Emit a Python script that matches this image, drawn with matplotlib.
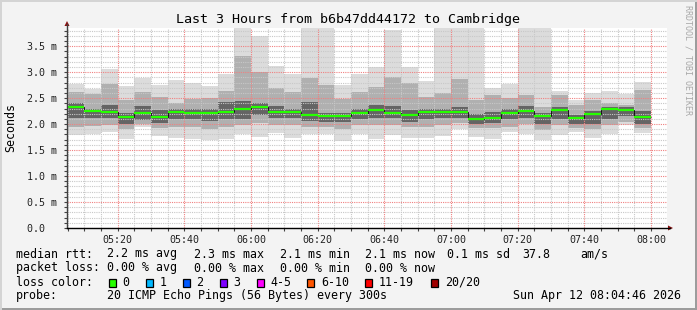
import numpy as np
import matplotlib
matplotlib.use('Agg')
import matplotlib.pyplot as plt
from matplotlib.patches import Rectangle, Polygon
from matplotlib.lines import Line2D

# smokeping rtt per 5 min slot (ms), 05:05 .. 07:55
top = [2.77, 2.67, 3.06, 2.73, 2.88, 2.76, 2.85, 2.79, 2.73, 2.96,
       3.90, 3.70, 3.12, 2.96, 3.90, 3.90, 2.76, 2.96, 3.10, 3.82,
       3.10, 2.83, 3.90, 3.90, 3.90, 2.69, 2.77, 3.90, 3.90, 2.64,
       2.46, 2.60, 2.64, 2.58, 2.81]
hi = [2.62, 2.58, 2.78, 2.46, 2.62, 2.53, 2.40, 2.49, 2.50, 2.64,
      3.31, 3.00, 2.70, 2.62, 2.88, 2.75, 2.49, 2.62, 2.72, 2.91,
      2.80, 2.53, 2.59, 2.86, 2.46, 2.56, 2.51, 2.56, 2.33, 2.56,
      2.37, 2.46, 2.40, 2.37, 2.65]
dhi = [2.40, 2.30, 2.36, 2.22, 2.35, 2.28, 2.30, 2.30, 2.30, 2.42,
       2.45, 2.40, 2.34, 2.30, 2.42, 2.22, 2.22, 2.30, 2.36, 2.34,
       2.28, 2.30, 2.30, 2.33, 2.20, 2.24, 2.30, 2.34, 2.22, 2.32,
       2.18, 2.26, 2.33, 2.32, 2.25]
med = [2.32, 2.26, 2.24, 2.13, 2.21, 2.14, 2.24, 2.22, 2.22, 2.24,
       2.30, 2.33, 2.24, 2.24, 2.18, 2.15, 2.15, 2.21, 2.28, 2.22,
       2.18, 2.24, 2.24, 2.24, 2.10, 2.12, 2.22, 2.26, 2.16, 2.28,
       2.12, 2.20, 2.30, 2.28, 2.13]
dlo = [2.12, 2.12, 2.12, 2.00, 2.08, 2.02, 2.10, 2.10, 2.06, 2.10,
       2.10, 2.18, 2.12, 2.12, 2.06, 2.05, 2.05, 2.10, 2.12, 2.12,
       2.05, 2.10, 2.12, 2.12, 2.00, 2.02, 2.10, 2.12, 2.00, 2.10,
       2.00, 2.00, 2.10, 2.15, 2.00]
lo = [1.95, 1.97, 1.98, 1.90, 2.00, 1.92, 1.95, 1.95, 1.90, 1.95,
      1.98, 2.02, 1.98, 1.98, 1.95, 1.95, 1.90, 1.98, 1.98, 1.98,
      1.95, 1.95, 1.98, 2.02, 1.92, 1.92, 1.95, 2.00, 1.88, 1.98,
      1.92, 1.90, 1.98, 2.04, 1.92]
bot = [1.79, 1.80, 1.85, 1.72, 1.95, 1.78, 1.74, 1.71, 1.69, 1.71,
       1.80, 1.76, 1.82, 1.74, 1.80, 1.80, 1.68, 1.80, 1.72, 1.79,
       1.74, 1.74, 1.78, 1.90, 1.75, 1.72, 1.85, 1.81, 1.69, 1.79,
       1.85, 1.74, 1.80, 1.99, 1.82]

xlabels = ['05:20', '05:40', '06:00', '06:20', '06:40', '07:00', '07:20', '07:40', '08:00']
ylabels = ['0.0  ', '0.5 m', '1.0 m', '1.5 m', '2.0 m', '2.5 m', '3.0 m', '3.5 m']

loss_labels = ['0', '1', '2', '3', '4-5', '6-10', '11-19', '20/20']
loss_colors = ['#26ff00', '#00b8ff', '#0059ff', '#7e00ff', '#ff00ff', '#ff5500', '#ff0000', '#a10000']

W, H = 697, 310
MONO = 'DejaVu Sans Mono'

def px(x, y):
    return (x / W, 1 - y / H)

fig = plt.figure(figsize=(W / 100, H / 100), dpi=100)
fig.patch.set_facecolor('#f3f3f3')

ax = fig.add_axes([67 / W, 1 - 228 / H, 600 / W, 200 / H])
ax.set_facecolor('white')

# minutes since midnight
t = 305 + 5 * np.arange(len(med))
top, hi, dhi, med, dlo, lo, bot = map(np.array, (top, hi, dhi, med, dlo, lo, bot))

ax.bar(t, top - bot, bottom=bot, width=5, align='edge', color='#dcdcdc', lw=0, zorder=1)
ax.bar(t, hi - lo, bottom=lo, width=5, align='edge', color='#b0b0b0', lw=0, zorder=1.1)
ax.bar(t, dhi - dlo, bottom=dlo, width=5, align='edge', color='#646464', lw=0, zorder=1.2)

edges = np.append(t, t[-1] + 5)
ax.stairs(med, edges, baseline=None, color='black', lw=0.6, zorder=4)
ax.hlines(med, t, t + 5, color='#26ff00', lw=1.6, zorder=5)

ax.set_xlim(304.77, 484.77)
ax.set_ylim(0, 3.85)

ax.set_xticks(np.arange(320, 481, 20))
ax.set_xticklabels(xlabels)
ax.set_xticks(np.arange(305, 485, 5), minor=True)
ax.set_yticks(np.arange(0, 3.51, 0.5))
ax.set_yticklabels(ylabels)
ax.set_yticks(np.arange(0, 3.85, 0.1), minor=True)

ax.set_axisbelow(False)
ax.grid(which='minor', color='#c8c8c8', linestyle=(0, (1, 1)), lw=0.8)
ax.grid(which='major', color='#f08080', linestyle=(0, (1, 1)), lw=0.8)

ax.tick_params(which='both', direction='out', length=2, color='#444444', width=0.8)
ax.tick_params(axis='y', pad=5)
ax.tick_params(axis='x', pad=3)
for lab in ax.get_xticklabels() + ax.get_yticklabels():
    lab.set_family(MONO)
    lab.set_fontsize(7.2)
    lab.set_color('#222222')

for s in ('top', 'right', 'left', 'bottom'):
    ax.spines[s].set_visible(False)

# axis lines with arrows
fig.add_artist(Line2D([px(67, 0)[0]] * 2, [px(0, 228)[1], px(0, 24)[1]], color='#404040', lw=1))
fig.add_artist(Line2D([px(67, 0)[0], px(670, 0)[0]], [px(0, 228)[1]] * 2, color='black', lw=1))
fig.add_artist(Polygon([px(64.5, 26), px(69.5, 26), px(67, 21)], closed=True,
                       transform=fig.transFigure, color='#8b1010', lw=0))
fig.add_artist(Polygon([px(668, 225.5), px(668, 230.5), px(673, 228)], closed=True,
                       transform=fig.transFigure, color='#8b1010', lw=0))

fig.text(*px(348, 19), 'Last 3 Hours from b6b47dd44172 to Cambridge',
         ha='center', va='center', fontsize=9.6, family=MONO, color='black')
fig.text(*px(11, 128), 'Seconds', rotation=90, ha='center', va='center',
         fontsize=8.4, family=MONO, color='black')
fig.text(*px(688, 60), 'RRDTOOL / TOBI OETIKER', rotation=270, ha='center', va='center',
         fontsize=6, family=MONO, color='#a8a8a8')

lfs = 8.4
def ltext(x, y, s):
    fig.text(*px(x, y), s, ha='left', va='center', fontsize=lfs, family=MONO, color='black')

ltext(16, 254, 'median rtt:')
for x, s in zip([107, 194, 280, 365, 447, 522, 580],
                ['2.2 ms avg', '2.3 ms max', '2.1 ms min', '2.1 ms now', '0.1 ms sd', '37.8', 'am/s']):
    ltext(x, 254, s)
ltext(16, 268, 'packet loss:')
for x, s in zip([107, 194, 280, 365], ['0.00 % avg', '0.00 % max', '0.00 % min', '0.00 % now']):
    ltext(x, 268, s)
ltext(16, 282, 'loss color:')
box_x = [108.5, 145.5, 182.5, 219.5, 256.5, 307, 365, 431]
for bx, lab, c in zip(box_x, loss_labels, loss_colors):
    fig.add_artist(Rectangle(px(bx, 287), 7 / W, 8 / H, transform=fig.transFigure,
                             facecolor=c, edgecolor='black', lw=0.9))
    ltext(bx + 14, 282, lab)
ltext(16, 296, 'probe:')
ltext(107, 296, '20 ICMP Echo Pings (56 Bytes) every 300s')
ltext(513, 296, 'Sun Apr 12 08:04:46 2026')

# 3d frame
fig.add_artist(Rectangle((0, 0), 1, 2 / H, transform=fig.transFigure, color='#9c9c9c', lw=0))
fig.add_artist(Rectangle((1 - 2 / W, 0), 2 / W, 1, transform=fig.transFigure, color='#9c9c9c', lw=0))
fig.add_artist(Rectangle((0, 1 - 2 / H), 1, 2 / H, transform=fig.transFigure, color='#d4d4d4', lw=0))
fig.add_artist(Rectangle((0, 0), 2 / W, 1, transform=fig.transFigure, color='#d4d4d4', lw=0))

fig.savefig('out.png', dpi=100, facecolor=fig.get_facecolor())
